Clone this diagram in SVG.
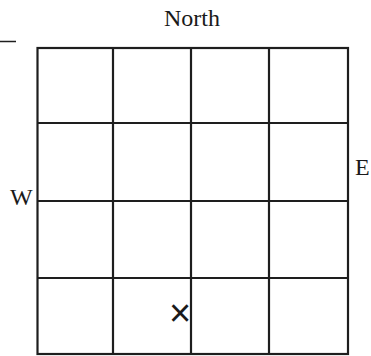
<svg xmlns="http://www.w3.org/2000/svg" width="371" height="356" viewBox="0 0 371 356">
<style>
.t{font-family:"Liberation Serif","Times New Roman",serif;font-size:24px;fill:#1a1a1a}
.g{stroke:#1e1e1e;stroke-width:2.2;fill:none}
</style>
<rect width="371" height="356" fill="#fff"/>
<g id="grid" class="g">
<rect x="37.5" y="48" width="310.5" height="306"/>
<line x1="113" y1="48" x2="113" y2="354"/>
<line x1="191" y1="48" x2="191" y2="354"/>
<line x1="269" y1="48" x2="269" y2="354"/>
<line x1="37.5" y1="123" x2="348" y2="123"/>
<line x1="37.5" y1="201" x2="348" y2="201"/>
<line x1="37.5" y1="278" x2="348" y2="278"/>
</g>
<line x1="0" y1="41.5" x2="16" y2="41.5" stroke="#1e1e1e" stroke-width="1.5"/>
<g id="labels">
<text class="t" x="164" y="26">North</text>
<text class="t" x="10" y="205">W</text>
<text class="t" x="355" y="175">E</text>
</g>
<text id="mark" x="180" y="326" text-anchor="middle" font-family="Liberation Sans, Arial, sans-serif" font-size="38" fill="#1a1a1a">×</text>
</svg>
